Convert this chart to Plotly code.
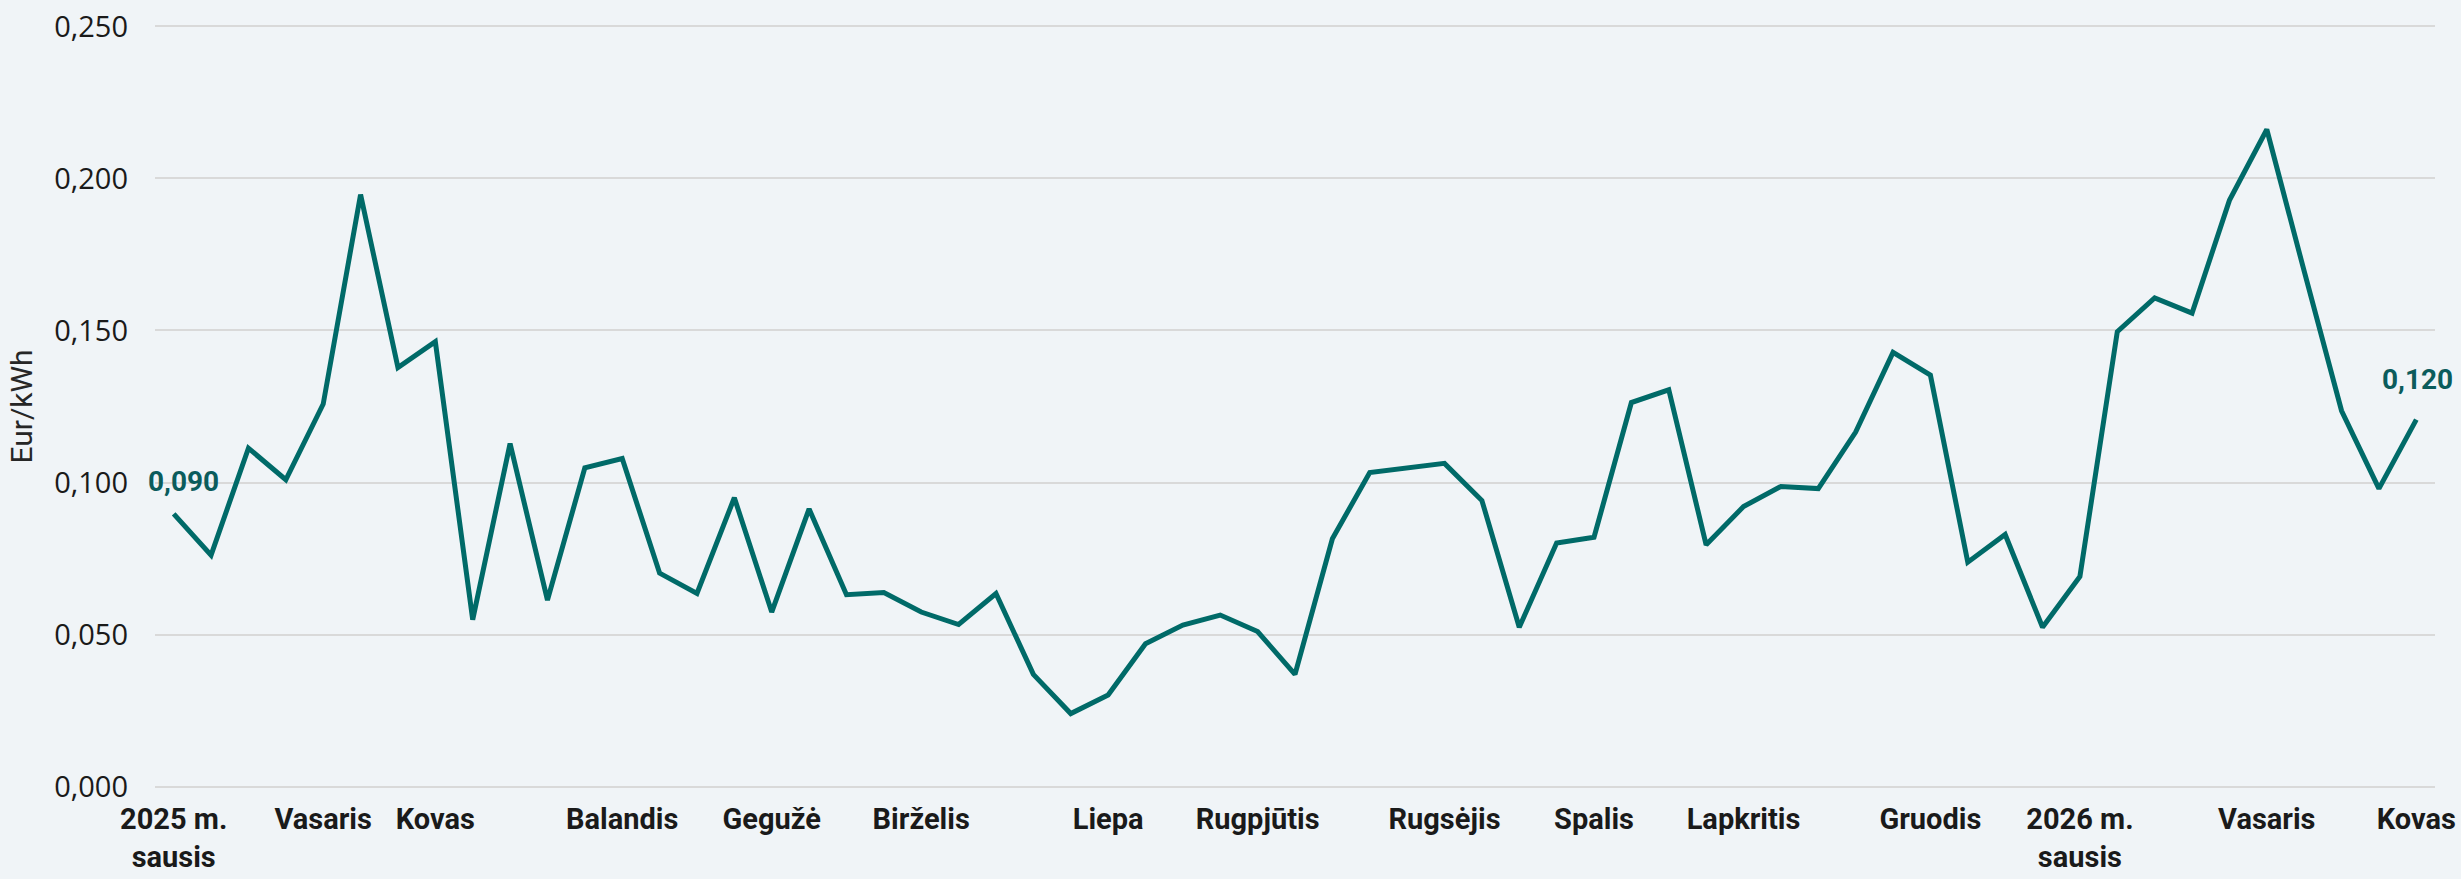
import plotly.graph_objects as go

# Weekly electricity price, Eur/kWh (index 0 = first week of Jan 2025)
week_index = list(range(61))
price = [
    0.0897, 0.0761, 0.1113, 0.1009, 0.1258, 0.1947, 0.1378, 0.1463, 0.0549, 0.1128,
    0.0613, 0.1048, 0.1079, 0.0702, 0.0635, 0.0950, 0.0574, 0.0913, 0.0631, 0.0638,
    0.0574, 0.0533, 0.0635, 0.0369, 0.0240, 0.0301, 0.0470, 0.0531, 0.0564, 0.0510,
    0.0369, 0.0815, 0.1033, 0.1047, 0.1063, 0.0941, 0.0524, 0.0801, 0.0820, 0.1263,
    0.1305, 0.0795, 0.0921, 0.0987, 0.0980, 0.1166, 0.1428, 0.1353, 0.0738, 0.0829,
    0.0524, 0.0691, 0.1496, 0.1607, 0.1557, 0.1928, 0.2161, 0.1695, 0.1236, 0.0980,
    0.1207,
]

tick_positions = [0, 4, 7, 12, 16, 20, 25, 29, 34, 38, 42, 47, 51, 56, 60]
tick_labels = [
    "2025 m.<br>sausis", "Vasaris", "Kovas", "Balandis", "Gegužė", "Birželis",
    "Liepa", "Rugpjūtis", "Rugsėjis", "Spalis", "Lapkritis", "Gruodis",
    "2026 m.<br>sausis", "Vasaris", "Kovas",
]

label_points = [0, 60]
label_texts = ["0,090", "0,120"]
label_xshift = [10, 1]
label_yshift = [14, 22]

LINE = "#006A68"
LABEL = "#0B5C5C"
BG = "#F0F4F7"
NARROW = "Roboto, sans-serif"

fig = go.Figure()
fig.add_trace(go.Scatter(
    x=week_index, y=price, mode="lines",
    line=dict(color=LINE, width=5),
    hoverinfo="skip", showlegend=False,
))

for i, t, xs, ys in zip(label_points, label_texts, label_xshift, label_yshift):
    fig.add_annotation(
        x=week_index[i], y=price[i], text=f"<b>{t}</b>", showarrow=False,
        xanchor="center", yanchor="bottom", yshift=ys, xshift=xs,
        font=dict(family=NARROW, size=28, color=LABEL),
    )

fig.update_layout(
    width=2461, height=879,
    paper_bgcolor=BG, plot_bgcolor=BG,
    margin=dict(l=155, r=26, t=24, b=90, autoexpand=False),
    separators=", ",
    showlegend=False,
)
fig.update_xaxes(
    range=[-0.5, 60.5], tickmode="array", automargin=False,
    tickvals=tick_positions, ticktext=[f"<b>{t}</b>" for t in tick_labels],
    showgrid=False, zeroline=False, showline=False, ticks="",
    ticklabelstandoff=10,
    tickfont=dict(family=NARROW, size=29, color="#1a1a1a"),
)
fig.update_yaxes(
    range=[-0.0008, 0.2508], tickvals=[0, 0.05, 0.1, 0.15, 0.2, 0.25], tickformat=".3f",
    automargin=False,
    showgrid=True, gridcolor="#D9D9D9", gridwidth=2,
    zeroline=False, showline=False, ticks="",
    ticklabelstandoff=26,
    tickfont=dict(family="Open Sans", size=29, color="#1a1a1a"),
    title=dict(text="Eur/kWh", font=dict(family=NARROW, size=30, color="#262626"), standoff=12),
)

fig.write_html(
    "out.html",
    config={"displayModeBar": False},
    post_script="document.body.style.margin='0';document.body.style.padding='0';"
                "document.body.style.overflow='hidden';"
                "document.body.style.background='" + BG + "';",
)
